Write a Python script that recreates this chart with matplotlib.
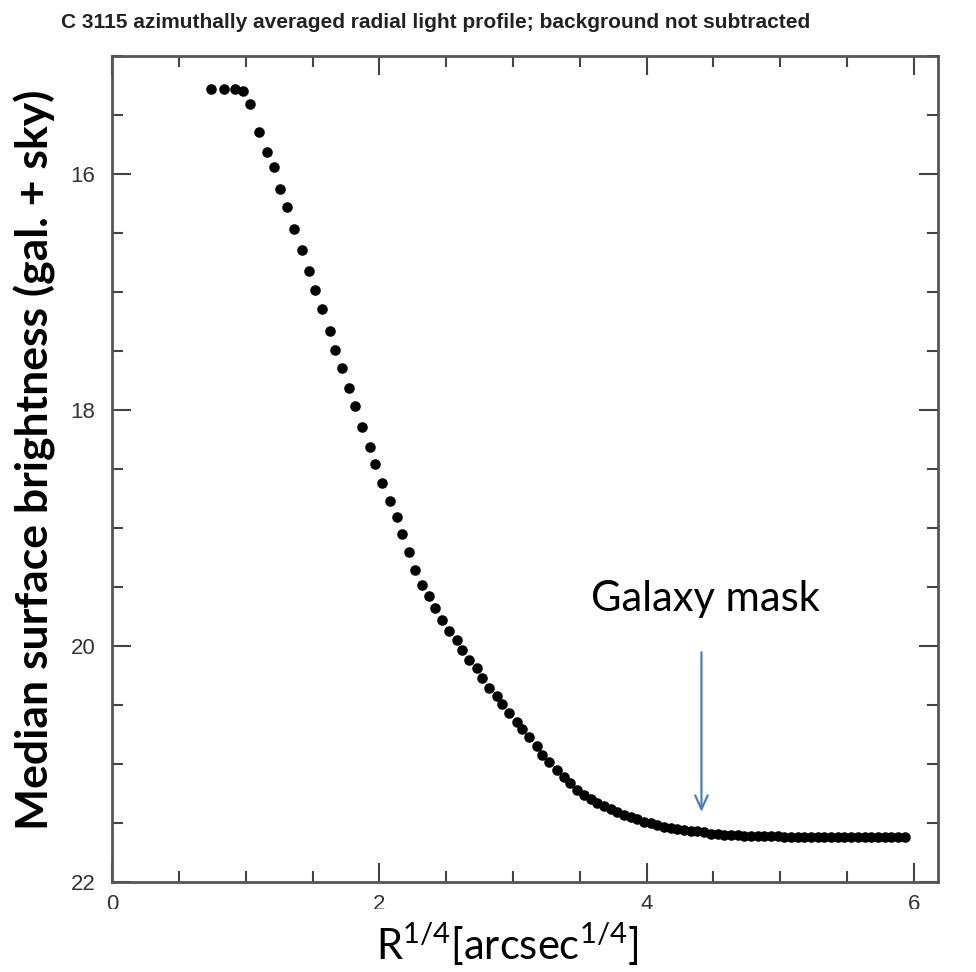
import matplotlib.pyplot as plt
from matplotlib.patches import Rectangle

# azimuthally averaged profile of NGC 3115, R^(1/4) vs median surface brightness
r_quarter = [0.74, 0.84, 0.92, 0.98, 1.03, 1.10, 1.16, 1.21, 1.26, 1.31,
             1.36, 1.42, 1.47, 1.52, 1.57, 1.63, 1.67, 1.72, 1.77, 1.82,
             1.87, 1.93, 1.97, 2.02, 2.08, 2.13, 2.17, 2.22, 2.27, 2.32,
             2.37, 2.42, 2.47, 2.52, 2.58, 2.62, 2.67, 2.73, 2.77, 2.82,
             2.88, 2.92, 2.97, 3.03, 3.07, 3.12, 3.18, 3.22, 3.27, 3.33,
             3.38, 3.43, 3.48, 3.53, 3.58, 3.63, 3.68, 3.73, 3.78, 3.83,
             3.88, 3.93, 3.98, 4.03, 4.08, 4.13, 4.18, 4.23, 4.28, 4.33,
             4.38, 4.43, 4.48, 4.53, 4.58, 4.63, 4.68, 4.73, 4.78, 4.83,
             4.88, 4.93, 4.98, 5.03, 5.08, 5.13, 5.18, 5.23, 5.28, 5.33,
             5.38, 5.43, 5.48, 5.53, 5.58, 5.63, 5.68, 5.73, 5.78, 5.83,
             5.88, 5.93]
mu = [15.28, 15.28, 15.28, 15.30, 15.41, 15.64, 15.81, 15.94, 16.13, 16.28,
      16.47, 16.64, 16.82, 16.98, 17.14, 17.33, 17.49, 17.64, 17.81, 17.97,
      18.14, 18.31, 18.46, 18.62, 18.77, 18.91, 19.05, 19.20, 19.36, 19.48,
      19.58, 19.68, 19.78, 19.87, 19.95, 20.03, 20.12, 20.19, 20.27, 20.36,
      20.42, 20.49, 20.57, 20.64, 20.70, 20.77, 20.85, 20.92, 20.98, 21.05,
      21.11, 21.16, 21.22, 21.26, 21.30, 21.33, 21.36, 21.38, 21.41, 21.43,
      21.45, 21.47, 21.49, 21.50, 21.52, 21.53, 21.54, 21.55, 21.56, 21.57,
      21.57, 21.58, 21.59, 21.59, 21.60, 21.60, 21.60, 21.61, 21.61, 21.61,
      21.61, 21.61, 21.61, 21.62, 21.62, 21.62, 21.62, 21.62, 21.62, 21.62,
      21.62, 21.62, 21.62, 21.62, 21.62, 21.62, 21.62, 21.62, 21.62, 21.62,
      21.62, 21.62]

x_major = [0, 2, 4, 6]
y_major = [16, 18, 20, 22]
mask_r = 4.41

plt.rcParams['mathtext.fontset'] = 'custom'
plt.rcParams['mathtext.rm'] = 'Lato'
plt.rcParams['mathtext.default'] = 'regular'

fig = plt.figure(figsize=(9.76, 9.72), dpi=100)
ax = fig.add_axes([0.1148, 0.0926, 0.8463, 0.8498])

ax.plot(r_quarter, mu, 'o', color='black', markersize=7.6, markeredgewidth=0)

ax.set_xlim(0, 6.18)
ax.set_ylim(22, 15)
ax.set_xticks(x_major)
ax.set_yticks(y_major)
ax.set_xticks([i * 0.5 for i in range(13)], minor=True)
ax.set_yticks([15 + i * 0.5 for i in range(15)], minor=True)
ax.tick_params(which='both', direction='in', top=True, right=True,
               colors='#444444', width=1.5)
ax.tick_params(which='major', length=14, labelsize=16, labelcolor='#333333')
ax.tick_params(which='minor', length=8)
ax.tick_params(axis='y', pad=12)
ax.tick_params(axis='x', pad=9)
for s in ax.spines.values():
    s.set_color('#555555')
    s.set_linewidth(2)
for lab in ax.get_xticklabels() + ax.get_yticklabels():
    lab.set_family('Liberation Sans')

# arrow marking where the galaxy mask ends
ax.annotate('', xy=(mask_r, 21.43), xytext=(mask_r, 20.03),
            arrowprops=dict(arrowstyle='->,head_length=1.0,head_width=0.45',
                            color='#4a7ebb', lw=1.6))
ax.text(mask_r + 0.03, 19.6, 'Galaxy mask', ha='center', va='center',
        fontsize=30, family='Lato', color='black')

fig.text(0.063, 0.977, 'C 3115 azimuthally averaged radial light profile; background not subtracted',
         fontsize=15, fontweight='bold', family='Liberation Sans', color='#222222',
         va='center', ha='left')

# white band under the plot, hides the lower part of the tick numbers
fig.patches.append(Rectangle((0, 0), 1, 0.0648, transform=fig.transFigure,
                             facecolor='white', edgecolor='none', zorder=5))

fig.text(0.52, 0.028, r'R$^{1/4}$[arcsec$^{1/4}$]', ha='center', va='center',
         fontsize=30, family='Lato', zorder=6)
fig.text(0.036, 0.527, 'Median surface brightness (gal. + sky)', rotation=90,
         ha='center', va='center', fontsize=32, fontweight='bold', family='Lato')

fig.savefig('out.png', dpi=100)
